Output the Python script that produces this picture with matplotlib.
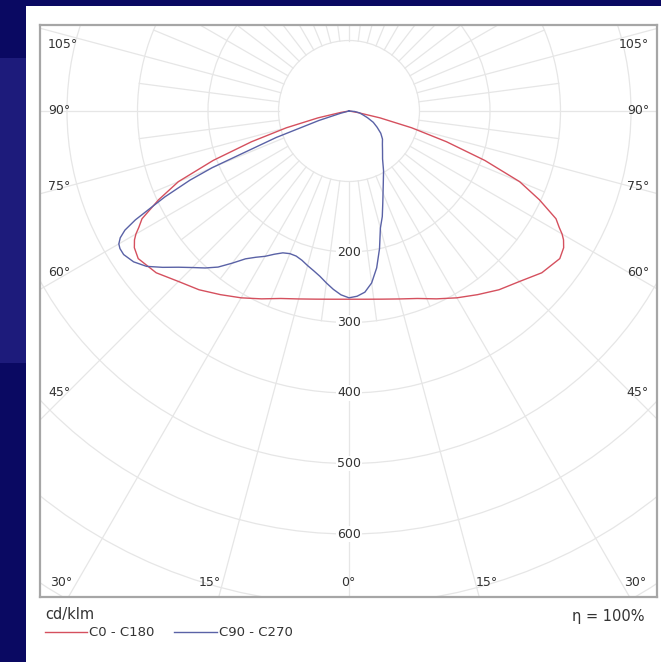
import numpy as np
import matplotlib.pyplot as plt
from matplotlib.patches import Rectangle, Circle

# luminous intensity, cd/klm, against gamma angle (deg from nadir)
gamma_c0 = [0, 5, 10, 15, 20, 25, 30, 35, 40, 45, 50, 55, 57.5, 59, 60, 61, 62.5, 65, 67.5, 70, 72.5, 75,
            77.5, 80, 82.5, 90]
cd_c0 = [267, 268, 271, 276, 283, 294, 306, 318, 331, 342, 357, 365, 361, 355, 349, 341, 331, 298, 262, 205,
         145, 92, 45, 12, 0, 0]

# C270 side (left half of the blue curve)
gamma_c270 = [0, 2.5, 5, 7.5, 10, 12.5, 15, 17.5, 20, 22.5, 25, 27.5, 30, 32.5, 35, 37.5, 40, 42.5, 45,
              47.5, 50, 52.5, 55, 57.5, 59, 60, 61, 62, 63, 64, 65, 66.5, 67.5, 70, 72.5, 75, 80, 90]
cd_c270 = [265, 261, 254, 246, 238, 232, 227, 222, 219, 219, 222, 229, 238, 246, 256, 272, 289, 302, 314,
           328, 345, 362, 373, 379, 379, 377, 371, 360, 340, 312, 288, 246, 210, 110, 45, 12, 0, 0]

# C90 side (right half of the blue curve)
gamma_c90 = [0, 2.5, 5, 7.5, 10, 12.5, 15, 17.5, 20, 25, 30, 35, 40, 45, 50, 55, 60, 65, 70, 75, 80, 85, 90]
cd_c90 = [265, 263, 258, 246, 226, 200, 172, 157, 140, 115, 98, 83, 74, 67, 62, 55, 46, 38, 28, 20, 15, 8, 0]

legend_labels = ["C0 - C180", "C90 - C270"]
ring_values = [200, 300, 400, 500, 600]
unit_label = "cd/klm"
eta_label = "\u03b7 = 100%"

S = 0.705          # pixels per cd/klm
CX, CY = 349, 111  # pole position in pixels
W, H = 661, 662

def px(xp, yp):
    return (xp - CX) / S, (yp - CY) / S

fig = plt.figure(figsize=(W / 100, H / 100), dpi=100)
fig.patch.set_facecolor('#0a0962')
fig.add_artist(Rectangle((0, 1 - 363 / H), 26 / W, 305 / H, transform=fig.transFigure,
                         fc='#1d1b7b', ec='none', zorder=0))
fig.add_artist(Rectangle((26 / W, 0), 1 - 26 / W, 1 - 6 / H, transform=fig.transFigure,
                         fc='white', ec='none', zorder=0))

ax = fig.add_axes([40 / W, (H - 597) / H, 617 / W, 572 / H])
x0, y0 = px(40, 25)
x1, y1 = px(657, 597)
ax.set_xlim(x0, x1)
ax.set_ylim(y1, y0)
ax.set_xticks([])
ax.set_yticks([])
for sp in ax.spines.values():
    sp.set_color('#a6a6a6')
    sp.set_linewidth(1.6)

grid_c = '#e6e6e6'
for r in range(100, 1000, 100):
    ax.add_patch(Circle((0, 0), r, fill=False, ec=grid_c, lw=0.9, zorder=1))
for a in np.arange(0, 360, 7.5):
    r_end = 1200 if a % 15 == 0 else 300
    t = np.radians(a)
    ax.plot([100 * np.sin(t), r_end * np.sin(t)], [100 * np.cos(t), r_end * np.cos(t)],
            color=grid_c, lw=0.9, zorder=1)

for r in ring_values:
    ax.text(0, r, str(r), ha='center', va='center', fontsize=9, color='#333333', zorder=3,
            bbox=dict(fc='white', ec='none', pad=1.0))

# angle labels along the frame
side_labels = [("105°", 45), ("90°", 110), ("75°", 187), ("60°", 272), ("45°", 392)]
for lab, yp in side_labels:
    ax.text(*px(48, yp), lab, ha='left', va='center', fontsize=9, color='#333333')
    ax.text(*px(649, yp), lab, ha='right', va='center', fontsize=9, color='#333333')
ax.text(*px(50, 582), "30°", ha='left', va='center', fontsize=9, color='#333333')
ax.text(*px(210, 582), "15°", ha='center', va='center', fontsize=9, color='#333333')
ax.text(*px(348.5, 582), "0°", ha='center', va='center', fontsize=9, color='#333333')
ax.text(*px(487, 582), "15°", ha='center', va='center', fontsize=9, color='#333333')
ax.text(*px(646, 582), "30°", ha='right', va='center', fontsize=9, color='#333333')

g0 = np.radians(gamma_c0)
I0 = np.array(cd_c0)
xr = np.concatenate([-(I0 * np.sin(g0))[::-1], (I0 * np.sin(g0))[1:]])
yr = np.concatenate([(I0 * np.cos(g0))[::-1], (I0 * np.cos(g0))[1:]])
red, = ax.plot(xr, yr, color='#d5505e', lw=1.0, zorder=4, label=legend_labels[0])

gl = np.radians(gamma_c270)
Il = np.array(cd_c270)
gr = np.radians(gamma_c90)
Ir = np.array(cd_c90)
xb = np.concatenate([-(Il * np.sin(gl))[::-1], (Ir * np.sin(gr))[1:]])
yb = np.concatenate([(Il * np.cos(gl))[::-1], (Ir * np.cos(gr))[1:]])
blue, = ax.plot(xb, yb, color='#5a62a6', lw=1.0, zorder=4, label=legend_labels[1])

fig.text(45 / W, 1 - 614 / H, unit_label, ha='left', va='center', fontsize=10.5, color='#333333')
fig.text(645 / W, 1 - 616 / H, eta_label, ha='right', va='center', fontsize=10.5, color='#333333')
fig.legend(handles=[red, blue], loc='center left', bbox_to_anchor=(45 / W, 1 - 633 / H),
           ncol=2, frameon=False, fontsize=9.5, handlelength=3.2, handletextpad=0.15,
           columnspacing=1.5, borderpad=0, borderaxespad=0, labelcolor='#333333')

fig.savefig('out.png', dpi=100, facecolor=fig.get_facecolor())
